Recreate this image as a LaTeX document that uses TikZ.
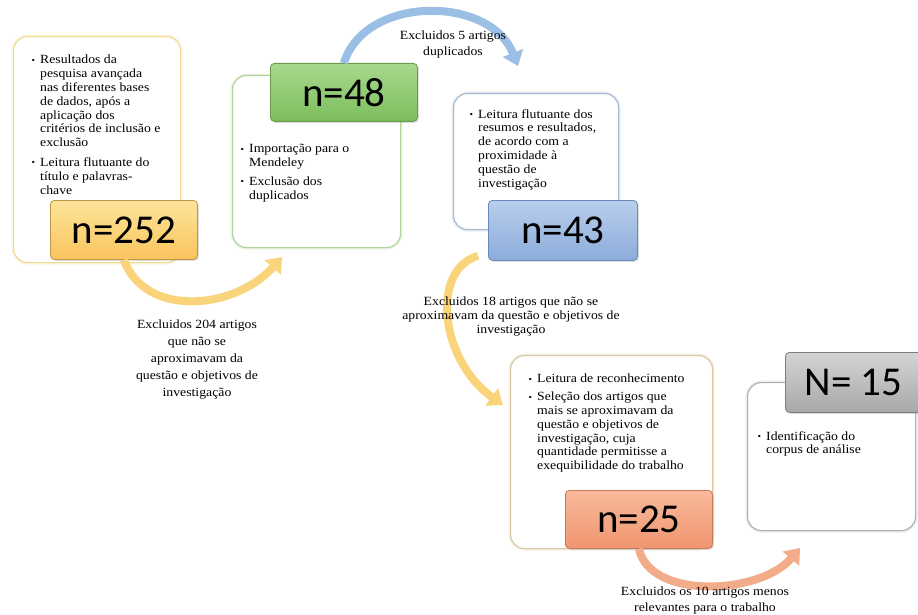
\documentclass[tikz,border=0pt]{standalone}
\usepackage{fontspec}
\setmainfont[FakeStretch=1.1]{Liberation Serif}
\newfontfamily\numfont{Carlito}
\usetikzlibrary{arrows.meta,shadows}
\definecolor{bdY}{RGB}{238,220,140}
\definecolor{bdG}{RGB}{175,212,150}
\definecolor{bdB}{RGB}{165,184,206}
\definecolor{bdT}{RGB}{218,198,160}
\definecolor{bdK}{RGB}{176,176,176}
\definecolor{nYt}{RGB}{254,228,155}\definecolor{nYb}{RGB}{249,196,92}\definecolor{nYd}{RGB}{190,150,70}
\definecolor{nGt}{RGB}{168,216,140}\definecolor{nGb}{RGB}{124,190,92}\definecolor{nGd}{RGB}{105,155,78}
\definecolor{nBt}{RGB}{185,206,236}\definecolor{nBb}{RGB}{140,172,218}\definecolor{nBd}{RGB}{105,138,188}
\definecolor{nOt}{RGB}{248,186,155}\definecolor{nOb}{RGB}{240,150,112}\definecolor{nOd}{RGB}{200,120,90}
\definecolor{nKt}{RGB}{212,212,212}\definecolor{nKb}{RGB}{168,168,168}\definecolor{nKd}{RGB}{125,125,125}
\definecolor{arrY}{RGB}{250,212,122}
\definecolor{arrB}{RGB}{155,190,228}
\definecolor{arrO}{RGB}{242,172,138}
\tikzset{
  outerbox/.style={draw=#1, rounded corners=14pt, line width=1.1pt, fill=white, anchor=north west, inner sep=0pt,
    preaction={draw=#1, line width=4pt, draw opacity=0.25}},
  numbox/.style={draw, rounded corners=4pt, line width=0.8pt, anchor=north west, inner sep=0pt,
    font=\numfont\fontsize{41}{41}\selectfont,
    drop shadow={shadow xshift=1.5pt, shadow yshift=-1.5pt, opacity=0.25}},
  bultext/.style={anchor=north west, inner sep=0pt, align=left, font=\fontsize{12.5}{13.8}\selectfont},
  lbl/.style={anchor=north, inner sep=0pt, align=center},
  flow/.style={line width=8pt, -{Triangle[length=14pt,width=21pt]}},
}
\newcommand{\bul}{\llap{\raisebox{0.5pt}{\fontsize{9}{9}\selectfont\textbullet}\hspace{5pt}}}
\begin{document}
\begin{tikzpicture}[x=1pt,y=-1pt]
\fill[white] (0,0) rectangle (918,615);
\useasboundingbox (0,0) rectangle (918,615);

% outer boxes
\node[outerbox=bdY, minimum width=167pt, minimum height=226pt] (b1) at (13,36) {};
\node[outerbox=bdG, minimum width=168pt, minimum height=172pt] (b2) at (232,75) {};
\node[outerbox=bdB, minimum width=165pt, minimum height=136pt] (b3) at (453,93) {};
\node[outerbox=bdT, minimum width=202pt, minimum height=193pt] (b4) at (510,355) {};
\node[outerbox=bdK, minimum width=168pt, minimum height=148pt] (b5) at (747,382) {};

% number boxes
\node[numbox, draw=nYd, top color=nYt, bottom color=nYb, minimum width=147pt, minimum height=59pt] (n252) at (50,200) {n=252};
\node[numbox, draw=nGd, top color=nGt, bottom color=nGb, minimum width=147pt, minimum height=58pt] (n48) at (270,63) {n=48};
\node[numbox, draw=nBd, top color=nBt, bottom color=nBb, minimum width=149pt, minimum height=60pt] (n43) at (488,200) {n=43};
\node[numbox, draw=nOd, top color=nOt, bottom color=nOb, minimum width=147pt, minimum height=58pt] (n25) at (565,490) {n=25};
\node[numbox, draw=nKd, top color=nKt, bottom color=nKb, minimum width=136pt, minimum height=60pt] (n15) at (785,352) {N= 15\hspace{4pt}};

% box texts
\node[bultext] (t1txt) at (40,55) {\bul Resultados da\\pesquisa avançada\\nas diferentes bases\\de dados, após a\\aplicação dos\\critérios de inclusão e\\exclusão\\[6pt]\bul Leitura flutuante do\\título e palavras-\\chave};
\node[bultext] (t2txt) at (249,144) {\bul Importação para o\\Mendeley\\[5pt]\bul Exclusão dos\\duplicados};
\node[bultext] (t3txt) at (478,109) {\bul Leitura flutuante dos\\resumos e resultados,\\de acordo com a\\proximidade à\\questão de\\investigação};
\node[bultext] (t4txt) at (537,374) {\bul Leitura de reconhecimento\\[4pt]\bul Seleção dos artigos que\\mais se aproximavam da\\questão e objetivos de\\investigação, cuja\\quantidade permitisse a\\exequibilidade do trabalho};
\node[bultext] (t5txt) at (766,431) {\bul Identificação do\\corpus de análise};

% flow arrows
\coordinate (e1) at (282,257);
\coordinate (e2) at (518,66);
\coordinate (e3) at (503,405);
\coordinate (e4) at (800,548);
\draw[flow, arrY] (n252.south) .. controls (145,318) and (235,310) .. (e1);
\draw[flow, arrB] (n48.north) .. controls (365,-5) and (490,-5) .. (e2);
\draw[flow, arrY] ([xshift=-10pt,yshift=5pt]n43.south west) .. controls (430,270) and (440,360) .. (e3);
\draw[flow, arrO] (n25.south) .. controls (650,600) and (760,595) .. (e4);

% labels
\node[lbl, font=\fontsize{12.5}{17}\selectfont] (l1) at (197,320) {Excluidos 204 artigos\\que não se\\aproximavam da\\questão e objetivos de\\investigação};
\node[lbl, font=\fontsize{12.5}{16}\selectfont] (l2) at (453,31) {Excluidos 5 artigos\\duplicados};
\node[lbl, font=\fontsize{12.5}{13.6}\selectfont] (l3) at (511,297) {Excluidos 18 artigos que não se\\aproximavam da questão e objetivos de\\investigação};
\node[lbl, font=\fontsize{12.5}{16}\selectfont] (l4) at (705,587) {Excluidos os 10 artigos menos\\relevantes para o trabalho};
\end{tikzpicture}
\end{document}
